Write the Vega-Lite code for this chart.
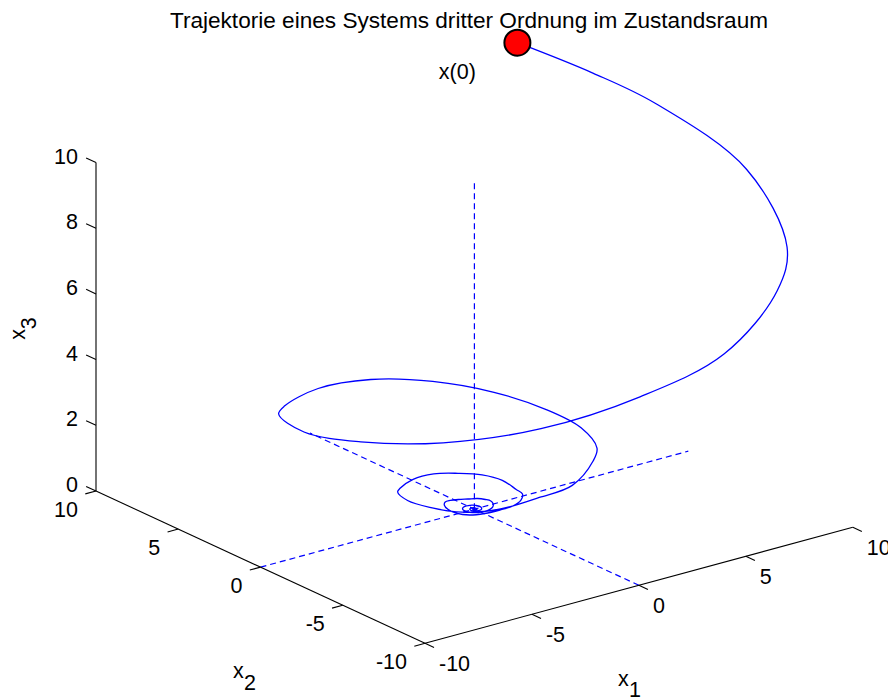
{
  "$schema": "https://vega.github.io/schema/vega-lite/v6.json",
  "width": 888,
  "height": 697,
  "autosize": {"type": "none"},
  "padding": 0,
  "background": "white",
  "config": {
    "view": {"stroke": null},
    "text": {"font": "Liberation Sans", "fontSize": 21.5, "color": "#000000"}
  },
  "title": {
    "text": "Trajektorie eines Systems dritter Ordnung im Zustandsraum",
    "font": "Liberation Sans",
    "fontSize": 22.6,
    "fontWeight": "normal",
    "color": "#000000",
    "anchor": "middle",
    "frame": "group",
    "baseline": "alphabetic",
    "offset": -51,
    "dx": 25
  },
  "datasets": {
    "trajektorie": [
      {"t": 0, "x1": 9.7, "x2": 10, "x3": 10.17},
      {"t": 1, "x1": 11.39, "x2": 7.61, "x3": 9.5},
      {"t": 2, "x1": 12.461, "x2": 5.161, "x3": 8.945},
      {"t": 3, "x1": 12.721, "x2": 0, "x3": 8.102},
      {"t": 4, "x1": 11.085, "x2": -4.592, "x3": 7.088},
      {"t": 5, "x1": 8.002, "x2": -8.002, "x3": 7.091},
      {"t": 6, "x1": 4.085, "x2": -9.861, "x3": 6.288},
      {"t": 7, "x1": 0, "x2": -10.067, "x3": 5.754},
      {"t": 8, "x1": -3.634, "x2": -8.772, "x3": 5.125},
      {"t": 9, "x1": -6.332, "x2": -6.332, "x3": 4.606},
      {"t": 10, "x1": -7.803, "x2": -3.232, "x3": 4.177},
      {"t": 11, "x1": -7.966, "x2": 0, "x3": 3.755},
      {"t": 12, "x1": -6.941, "x2": 2.875, "x3": 3.456},
      {"t": 13, "x1": -5.011, "x2": 5.011, "x3": 2.869},
      {"t": 14, "x1": -2.558, "x2": 6.174, "x3": 2.693},
      {"t": 15, "x1": 0, "x2": 6.303, "x3": 2.486},
      {"t": 16, "x1": 2.275, "x2": 5.492, "x3": 2.214},
      {"t": 17, "x1": 3.965, "x2": 3.965, "x3": 1.938},
      {"t": 18, "x1": 4.886, "x2": 2.024, "x3": 1.707},
      {"t": 19, "x1": 4.988, "x2": 0, "x3": 1.596},
      {"t": 20, "x1": 4.347, "x2": -1.801, "x3": 1.511},
      {"t": 21, "x1": 3.137, "x2": -3.137, "x3": 1.639},
      {"t": 22, "x1": 1.602, "x2": -3.867, "x3": 1.337},
      {"t": 23, "x1": 0, "x2": -3.947, "x3": 1.27},
      {"t": 24, "x1": -1.425, "x2": -3.44, "x3": 1.054},
      {"t": 25, "x1": -2.483, "x2": -2.483, "x3": 0.921},
      {"t": 26, "x1": -3.06, "x2": -1.267, "x3": 0.887},
      {"t": 27, "x1": -3.124, "x2": 0, "x3": 0.815},
      {"t": 28, "x1": -2.722, "x2": 1.127, "x3": 0.741},
      {"t": 29, "x1": -1.965, "x2": 1.965, "x3": 0.526},
      {"t": 30, "x1": -1.003, "x2": 2.421, "x3": 0.525},
      {"t": 31, "x1": 0, "x2": 2.472, "x3": 0.5},
      {"t": 32, "x1": 0.892, "x2": 2.154, "x3": 0.434},
      {"t": 33, "x1": 1.555, "x2": 1.555, "x3": 0.411},
      {"t": 34, "x1": 1.916, "x2": 0.794, "x3": 0.356},
      {"t": 35, "x1": 1.956, "x2": 0, "x3": 0.253},
      {"t": 36, "x1": 1.705, "x2": -0.706, "x3": 0.324},
      {"t": 37, "x1": 1.23, "x2": -1.23, "x3": 0.346},
      {"t": 38, "x1": 0.628, "x2": -1.516, "x3": 0.336},
      {"t": 39, "x1": 0, "x2": -1.548, "x3": 0.333},
      {"t": 40, "x1": -0.559, "x2": -1.349, "x3": 0.279},
      {"t": 41, "x1": -0.974, "x2": -0.974, "x3": 0.219},
      {"t": 42, "x1": -1.2, "x2": -0.497, "x3": 0.195},
      {"t": 43, "x1": -1.225, "x2": 0, "x3": 0.205},
      {"t": 44, "x1": -1.067, "x2": 0.442, "x3": 0.212},
      {"t": 45, "x1": -0.771, "x2": 0.771, "x3": 0.175},
      {"t": 46, "x1": -0.393, "x2": 0.95, "x3": 0.113},
      {"t": 47, "x1": 0, "x2": 0.969, "x3": 0.069},
      {"t": 48, "x1": 0.35, "x2": 0.844, "x3": 0.051},
      {"t": 49, "x1": 0.61, "x2": 0.61, "x3": 0.075},
      {"t": 50, "x1": 0.751, "x2": 0.311, "x3": 0.089},
      {"t": 51, "x1": 0.767, "x2": 0, "x3": 0.113},
      {"t": 52, "x1": 0.669, "x2": -0.277, "x3": 0.1},
      {"t": 53, "x1": 0.482, "x2": -0.482, "x3": 0.09},
      {"t": 54, "x1": 0.246, "x2": -0.595, "x3": 0.08},
      {"t": 55, "x1": 0, "x2": -0.607, "x3": 0.07},
      {"t": 56, "x1": -0.219, "x2": -0.529, "x3": 0.06},
      {"t": 57, "x1": -0.382, "x2": -0.382, "x3": 0.05},
      {"t": 58, "x1": -0.47, "x2": -0.195, "x3": 0.045},
      {"t": 59, "x1": -0.48, "x2": 0, "x3": 0.04},
      {"t": 60, "x1": -0.419, "x2": 0.173, "x3": 0.035},
      {"t": 61, "x1": -0.302, "x2": 0.302, "x3": 0.03},
      {"t": 62, "x1": -0.154, "x2": 0.372, "x3": 0.026},
      {"t": 63, "x1": 0, "x2": 0.38, "x3": 0.022},
      {"t": 64, "x1": 0.137, "x2": 0.331, "x3": 0.019},
      {"t": 65, "x1": 0.239, "x2": 0.239, "x3": 0.016},
      {"t": 66, "x1": 0.3, "x2": 0, "x3": 0.013},
      {"t": 67, "x1": 0.189, "x2": -0.189, "x3": 0.011},
      {"t": 68, "x1": 0, "x2": -0.237, "x3": 0.009},
      {"t": 69, "x1": -0.149, "x2": -0.149, "x3": 0.007},
      {"t": 70, "x1": -0.188, "x2": 0, "x3": 0.006},
      {"t": 71, "x1": -0.118, "x2": 0.118, "x3": 0.005},
      {"t": 72, "x1": 0, "x2": 0.148, "x3": 0.004},
      {"t": 73, "x1": 0.093, "x2": 0.093, "x3": 0.003},
      {"t": 74, "x1": 0.074, "x2": -0.074, "x3": 0.002},
      {"t": 75, "x1": -0.059, "x2": -0.059, "x3": 0.001},
      {"t": 76, "x1": -0.047, "x2": 0.047, "x3": 0.001},
      {"t": 77, "x1": 0, "x2": 0, "x3": 0}
    ],
    "hilfslinien": [
      {"s1": -10, "s2": 0, "s3": 0, "e1": 10, "e2": 0, "e3": 0},
      {"s1": 0, "s2": -10, "s3": 0, "e1": 0, "e2": 10, "e3": 0},
      {"s1": 0, "s2": 0, "s3": 0, "e1": 0, "e2": 0, "e3": 10}
    ],
    "achsen": [
      {"achse": "x1", "s1": -10, "s2": -10, "s3": 0, "e1": 10, "e2": -10, "e3": 0, "titel": "x", "index": "1"},
      {"achse": "x2", "s1": -10, "s2": 10, "s3": 0, "e1": -10, "e2": -10, "e3": 0, "titel": "x", "index": "2"},
      {"achse": "x3", "s1": -10, "s2": 10, "s3": 0, "e1": -10, "e2": 10, "e3": 10, "titel": "x", "index": "3"}
    ],
    "ticks": [
      {"achse": "x1", "wert": -10, "text": "-10"},
      {"achse": "x1", "wert": -5, "text": "-5"},
      {"achse": "x1", "wert": 0, "text": "0"},
      {"achse": "x1", "wert": 5, "text": "5"},
      {"achse": "x1", "wert": 10, "text": "10"},
      {"achse": "x2", "wert": -10, "text": "-10"},
      {"achse": "x2", "wert": -5, "text": "-5"},
      {"achse": "x2", "wert": 0, "text": "0"},
      {"achse": "x2", "wert": 5, "text": "5"},
      {"achse": "x2", "wert": 10, "text": "10"},
      {"achse": "x3", "wert": 0, "text": "0"},
      {"achse": "x3", "wert": 2, "text": "2"},
      {"achse": "x3", "wert": 4, "text": "4"},
      {"achse": "x3", "wert": 6, "text": "6"},
      {"achse": "x3", "wert": 8, "text": "8"},
      {"achse": "x3", "wert": 10, "text": "10"}
    ],
    "start": [
      {"x1": 9.7, "x2": 10, "x3": 10.17, "label": "x(0)"}
    ]
  },
  "encoding": {
    "x": {"field": "u", "type": "quantitative", "scale": {"domain": [-474.4, 413.6], "nice": false, "zero": false}, "axis": null},
    "y": {"field": "v", "type": "quantitative", "scale": {"domain": [-187.85, 509.15], "nice": false, "zero": false}, "axis": null}
  },
  "layer": [
    {
      "data": {"name": "hilfslinien"},
      "transform": [
        {"calculate": "21.39 * datum.s1 - 16.45 * datum.s2", "as": "u"},
        {"calculate": "5.8 * datum.s1 + 7.615 * datum.s2 + 32.85 * datum.s3", "as": "v"},
        {"calculate": "21.39 * datum.e1 - 16.45 * datum.e2", "as": "u2"},
        {"calculate": "5.8 * datum.e1 + 7.615 * datum.e2 + 32.85 * datum.e3", "as": "v2"}
      ],
      "mark": {"type": "rule", "color": "#0000ff", "strokeWidth": 1.2, "strokeDash": [6, 4]},
      "encoding": {"x2": {"field": "u2"}, "y2": {"field": "v2"}}
    },
    {
      "data": {"name": "achsen"},
      "transform": [
        {"calculate": "21.39 * datum.s1 - 16.45 * datum.s2", "as": "u"},
        {"calculate": "5.8 * datum.s1 + 7.615 * datum.s2 + 32.85 * datum.s3", "as": "v"},
        {"calculate": "21.39 * datum.e1 - 16.45 * datum.e2", "as": "u2"},
        {"calculate": "5.8 * datum.e1 + 7.615 * datum.e2 + 32.85 * datum.e3", "as": "v2"}
      ],
      "mark": {"type": "rule", "color": "#000000", "strokeWidth": 1.1},
      "encoding": {"x2": {"field": "u2"}, "y2": {"field": "v2"}}
    },
    {
      "data": {"name": "ticks"},
      "transform": [
        {"calculate": "datum.achse === 'x1' ? datum.wert : -10", "as": "p1"},
        {"calculate": "datum.achse === 'x2' ? datum.wert : (datum.achse === 'x1' ? -10 : 10)", "as": "p2"},
        {"calculate": "datum.achse === 'x3' ? datum.wert : 0", "as": "p3"},
        {"calculate": "datum.p1 - (datum.achse === 'x2' ? 0.5 : 0)", "as": "q1"},
        {"calculate": "datum.p2 + (datum.achse === 'x3' ? 0.6 : 0) - (datum.achse === 'x1' ? 0.55 : 0)", "as": "q2"},
        {"calculate": "21.39 * datum.p1 - 16.45 * datum.p2", "as": "u"},
        {"calculate": "5.8 * datum.p1 + 7.615 * datum.p2 + 32.85 * datum.p3", "as": "v"},
        {"calculate": "21.39 * datum.q1 - 16.45 * datum.q2", "as": "u2"},
        {"calculate": "5.8 * datum.q1 + 7.615 * datum.q2 + 32.85 * datum.p3", "as": "v2"}
      ],
      "mark": {"type": "rule", "color": "#000000", "strokeWidth": 1.1},
      "encoding": {"x2": {"field": "u2"}, "y2": {"field": "v2"}}
    },
    {
      "data": {"name": "ticks"},
      "transform": [
        {"filter": "datum.achse === 'x1'"},
        {"calculate": "21.39 * datum.wert + 16.45 * 10", "as": "u"},
        {"calculate": "5.8 * datum.wert - 7.615 * 10", "as": "v"}
      ],
      "mark": {"type": "text", "align": "left", "baseline": "middle", "dx": 14, "dy": 21.5},
      "encoding": {"text": {"field": "text", "type": "nominal"}}
    },
    {
      "data": {"name": "ticks"},
      "transform": [
        {"filter": "datum.achse === 'x2'"},
        {"calculate": "21.39 * -10 - 16.45 * datum.wert", "as": "u"},
        {"calculate": "5.8 * -10 + 7.615 * datum.wert", "as": "v"}
      ],
      "mark": {"type": "text", "align": "right", "baseline": "middle", "dx": -18, "dy": 20},
      "encoding": {"text": {"field": "text", "type": "nominal"}}
    },
    {
      "data": {"name": "ticks"},
      "transform": [
        {"filter": "datum.achse === 'x3'"},
        {"calculate": "21.39 * -10 - 16.45 * 10", "as": "u"},
        {"calculate": "5.8 * -10 + 7.615 * 10 + 32.85 * datum.wert", "as": "v"}
      ],
      "mark": {"type": "text", "align": "right", "baseline": "middle", "dx": -18, "dy": -5},
      "encoding": {"text": {"field": "text", "type": "nominal"}}
    },
    {
      "data": {"name": "trajektorie"},
      "transform": [
        {"calculate": "21.39 * datum.x1 - 16.45 * datum.x2", "as": "u"},
        {"calculate": "5.8 * datum.x1 + 7.615 * datum.x2 + 32.85 * datum.x3", "as": "v"}
      ],
      "mark": {"type": "line", "color": "#0000ff", "strokeWidth": 1.3, "interpolate": "catmull-rom"},
      "encoding": {"order": {"field": "t", "type": "quantitative"}}
    },
    {
      "data": {"name": "start"},
      "transform": [
        {"calculate": "21.39 * datum.x1 - 16.45 * datum.x2", "as": "u"},
        {"calculate": "5.8 * datum.x1 + 7.615 * datum.x2 + 32.85 * datum.x3", "as": "v"}
      ],
      "mark": {"type": "point", "shape": "circle", "filled": true, "fill": "#ff0000", "stroke": "#000000", "strokeWidth": 2, "size": 676, "opacity": 1}
    },
    {
      "data": {"name": "start"},
      "transform": [
        {"calculate": "21.39 * datum.x1 - 16.45 * datum.x2", "as": "u"},
        {"calculate": "5.8 * datum.x1 + 7.615 * datum.x2 + 32.85 * datum.x3", "as": "v"}
      ],
      "mark": {"type": "text", "align": "center", "baseline": "middle", "dx": -60, "dy": 30},
      "encoding": {"text": {"field": "label", "type": "nominal"}}
    },
    {
      "data": {"name": "achsen"},
      "transform": [
        {"filter": "datum.achse === 'x1'"},
        {"calculate": "21.39 * (datum.s1 + datum.e1) / 2 - 16.45 * (datum.s2 + datum.e2) / 2", "as": "u"},
        {"calculate": "5.8 * (datum.s1 + datum.e1) / 2 + 7.615 * (datum.s2 + datum.e2) / 2 + 32.85 * (datum.s3 + datum.e3) / 2", "as": "v"}
      ],
      "layer": [
        {"mark": {"type": "text", "align": "left", "baseline": "alphabetic", "dx": -21, "dy": 101}, "encoding": {"text": {"field": "titel", "type": "nominal"}}},
        {"mark": {"type": "text", "align": "left", "baseline": "alphabetic", "dx": -10, "dy": 112}, "encoding": {"text": {"field": "index", "type": "nominal"}}}
      ]
    },
    {
      "data": {"name": "achsen"},
      "transform": [
        {"filter": "datum.achse === 'x2'"},
        {"calculate": "21.39 * (datum.s1 + datum.e1) / 2 - 16.45 * (datum.s2 + datum.e2) / 2", "as": "u"},
        {"calculate": "5.8 * (datum.s1 + datum.e1) / 2 + 7.615 * (datum.s2 + datum.e2) / 2 + 32.85 * (datum.s3 + datum.e3) / 2", "as": "v"}
      ],
      "layer": [
        {"mark": {"type": "text", "align": "left", "baseline": "alphabetic", "dx": -27.5, "dy": 111}, "encoding": {"text": {"field": "titel", "type": "nominal"}}},
        {"mark": {"type": "text", "align": "left", "baseline": "alphabetic", "dx": -16.5, "dy": 123}, "encoding": {"text": {"field": "index", "type": "nominal"}}}
      ]
    },
    {
      "data": {"name": "achsen"},
      "transform": [
        {"filter": "datum.achse === 'x3'"},
        {"calculate": "21.39 * (datum.s1 + datum.e1) / 2 - 16.45 * (datum.s2 + datum.e2) / 2", "as": "u"},
        {"calculate": "5.8 * (datum.s1 + datum.e1) / 2 + 7.615 * (datum.s2 + datum.e2) / 2 + 32.85 * (datum.s3 + datum.e3) / 2", "as": "v"}
      ],
      "layer": [
        {"mark": {"type": "text", "align": "left", "baseline": "alphabetic", "angle": 270, "dx": -13, "dy": -71}, "encoding": {"text": {"field": "titel", "type": "nominal"}}},
        {"mark": {"type": "text", "align": "left", "baseline": "alphabetic", "angle": 270, "dx": -2.5, "dy": -60}, "encoding": {"text": {"field": "index", "type": "nominal"}}}
      ]
    }
  ]
}
